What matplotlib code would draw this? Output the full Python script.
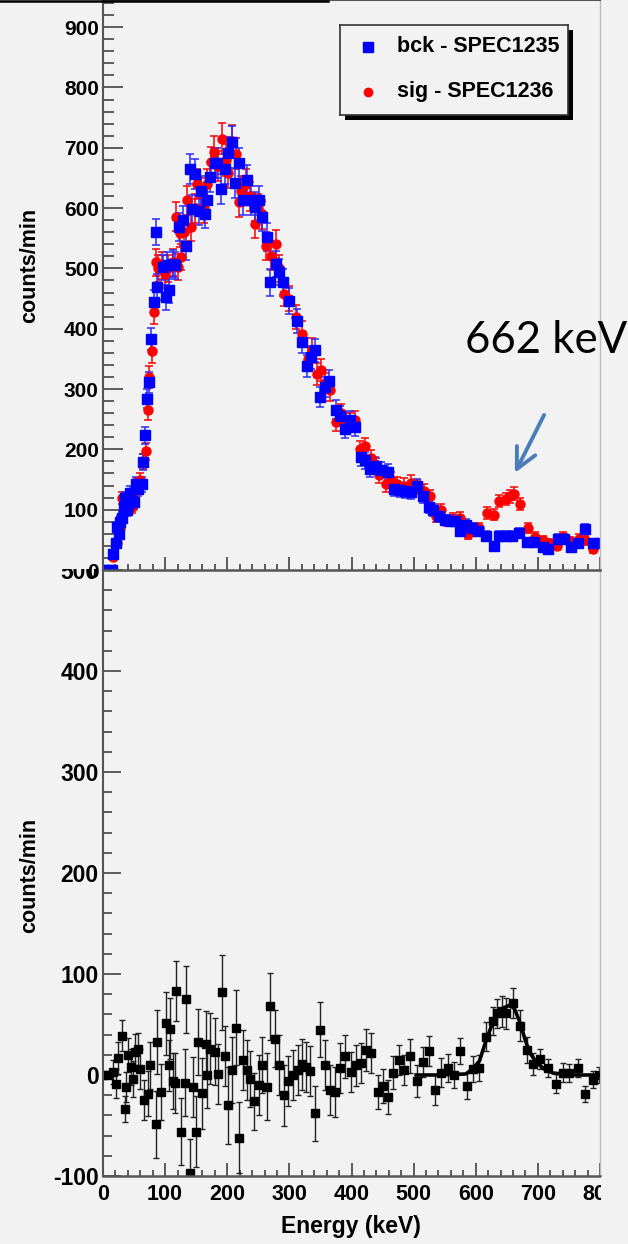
import matplotlib.pyplot as plt
from matplotlib.patches import Rectangle
from matplotlib.lines import Line2D
from matplotlib.ticker import MultipleLocator

plt.rcParams['font.family'] = ['Liberation Sans', 'DejaVu Sans']
plt.rcParams['font.weight'] = 'bold'
plt.rcParams['axes.unicode_minus'] = False

bg = '#f2f2f2'

# background spectrum (bck - SPEC1235)
bck_e = [2, 8, 14, 16, 21, 23, 25, 28, 31, 33,
         36, 38, 41, 44, 47, 50, 53, 57, 62, 64.5,
         67.7, 71.5, 74, 78, 82, 85, 87, 96, 101, 103,
         107, 112, 116, 122, 128, 134, 140, 144, 148, 154,
         158, 164, 167, 173, 180, 184, 190.5, 197, 202, 208,
         213, 218.5, 225, 232, 238, 244, 251, 256, 264, 269,
         278, 284, 290, 300, 312, 320, 328, 335, 342, 350,
         358, 364, 375, 382, 390, 398, 406, 415, 422, 430,
         440, 448, 458, 469, 478, 486, 496, 505, 515, 525,
         531, 541, 550, 559, 566, 575, 584, 594, 603, 616,
         629, 638, 649, 659, 670, 683, 694, 708, 716, 732,
         742, 753, 765, 776, 789, 798]
bck_cnt = [0, 0, 0, 26, 44, 71, 60, 80, 87, 105,
           120, 100, 110, 128, 115, 112, 142, 135, 142, 179,
           223, 284, 311, 383, 445, 560, 469, 502, 452, 505,
           464, 508, 505, 569, 580, 537, 665, 598, 656, 596,
           629, 591, 613, 652, 675, 675, 632, 665, 692, 710,
           642, 674, 613, 646, 613, 602, 613, 586, 552, 477,
           507, 494, 477, 446, 413, 378, 338, 353, 364, 287,
           303, 314, 266, 256, 234, 248, 237, 187, 182, 168,
           173, 166, 162, 135, 133, 131, 130, 139, 122, 104,
           100, 90, 83, 82, 82, 64, 75, 70, 64, 57,
           40, 56, 57, 56, 61, 46, 46, 38, 34, 52,
           52, 38, 45, 68, 44, 44]
bck_err = [0, 0, 0, 6, 7, 8, 8, 9, 9, 10,
           10, 10, 10, 11, 11, 11, 12, 12, 12, 13,
           14, 16, 17, 19, 20, 22, 21, 21, 21, 22,
           21, 22, 22, 23, 23, 23, 25, 24, 25, 24,
           24, 24, 24, 25, 25, 25, 25, 25, 26, 26,
           25, 25, 24, 25, 24, 24, 24, 24, 23, 22,
           22, 22, 22, 21, 20, 19, 18, 19, 19, 17,
           17, 18, 16, 16, 15, 16, 15, 14, 14, 13,
           13, 13, 13, 12, 12, 12, 12, 12, 11, 10,
           10, 10, 9, 9, 9, 8, 9, 8, 8, 8,
           7, 8, 8, 8, 8, 7, 7, 6, 6, 7,
           7, 6, 7, 8, 7, 7]

# source spectrum (sig - SPEC1236)
sig_e = [16, 22, 27, 31, 35, 38, 42, 46, 50, 55,
         59, 64.5, 68.8, 72.5, 74, 78.5, 81.7, 84.9, 89, 95,
         100, 105, 112, 118, 120, 123.5, 126, 131, 136, 142,
         148, 152, 158, 163, 168, 174, 178, 185, 192, 198,
         202, 208, 214, 219, 222, 230, 236, 244, 250, 256,
         262, 270, 278, 284, 291, 300, 310, 320.7, 330, 336,
         344, 351, 358, 364.6, 375, 383, 390, 398, 405, 414,
         422, 431.6, 438, 445, 455.8, 464, 474, 484, 496, 505,
         517, 526.5, 536, 544, 553, 563, 575, 587, 597, 605.8,
         617.6, 628.8, 638, 648.7, 655, 661, 671, 683.5, 695.8, 707.6,
         718, 730, 739.7, 752, 765.5, 776, 788]
sig_cnt = [22, 45, 70, 119, 100, 110, 115, 105, 120, 140,
           149, 180, 197, 265, 320, 363, 428, 510, 500, 505,
           490, 500, 510, 586, 502, 558, 519, 560, 613, 569,
           600, 640, 625, 600, 640, 676, 693, 670, 715, 680,
           658, 712, 690, 610, 628, 640, 620, 573, 600, 590,
           537, 520, 541, 500, 458, 450, 420, 392, 350, 365,
           325, 331, 310, 298, 245, 260, 245, 245, 248, 200,
           205, 185, 175, 157, 142, 150, 142, 140, 145, 138,
           131, 122, 89, 100, 82, 85, 87, 60, 70, 70,
           95, 92, 115, 117, 122, 126.5, 109, 70, 55, 50,
           45, 40, 55, 48, 52, 49, 35]
sig_err = [6, 7, 8, 10, 10, 10, 11, 10, 11, 12,
           12, 13, 14, 16, 18, 19, 20, 22, 22, 22,
           22, 22, 22, 24, 22, 23, 22, 23, 24, 23,
           24, 25, 25, 24, 25, 26, 26, 25, 26, 26,
           25, 26, 26, 24, 25, 25, 24, 23, 24, 24,
           23, 22, 23, 22, 21, 21, 20, 20, 19, 19,
           18, 18, 17, 17, 15, 16, 15, 15, 16, 14,
           14, 14, 13, 13, 12, 12, 12, 12, 12, 12,
           12, 11, 9, 10, 9, 9, 9, 8, 8, 8,
           10, 9, 10, 10, 11, 11, 10, 8, 8, 7,
           7, 7, 8, 7, 7, 7, 6]

# difference sig - bck
diff_e = [0, 8, 16, 20.6, 24, 31, 36, 37, 40, 45.7,
          47.7, 51, 56.4, 59, 66, 72.5, 76.3, 85, 87.6, 93,
          101, 106, 108.5, 112, 116, 118, 125, 131.5, 134, 139.5,
          145, 149, 153, 160, 165, 167, 173, 180, 185, 191.5,
          196, 202, 207.6, 213.5, 218.8, 225, 231, 237, 242.5, 250.5,
          256.4, 264, 269, 277, 284, 290.7, 297.6, 305.6, 313.7, 320.7,
          327, 334, 342, 349.7, 357.7, 364.6, 372.7, 381.8, 389, 399.5,
          406.5, 415.6, 423.6, 431.6, 442.3, 450.3, 458.4, 467.5, 476, 485,
          494.8, 505, 514.6, 525.4, 535, 544, 554.8, 564.5, 574.7, 585.4,
          595, 605.8, 616.5, 627, 635, 643, 648, 659.4, 671.7, 681.8,
          691.5, 704, 715.6, 729, 741, 750.5, 763.8, 776, 789, 798]
diff_cnt = [0, 0, 3, -8.5, 17, 39, -34, -12, 19.5, 8,
            -4, 23, 26, 6, -25, -18.5, 9.6, -49, 32.7, -16.8,
            51, 9.6, 46, -6, -8, 83, -56, -7.5, 75, -96.6,
            -12, -56, 32.7, -18, 31, 0.4, 26, 23, 1, 82,
            19, -30, 5, 47, -62, 15, 5, -4, -26, -10,
            10, -11.5, 68, 36, 10, -20, -6, 0, 5, 10.5,
            8, 4, -38, 45, 10, -15, -17, 7, 18.5, 3,
            9.6, 12, 24.5, 22, -17, -11, -22, 2.4, 15, 5,
            19, -6, 13, 23.5, -14.5, 2.4, 7, 0, 23.8, -11,
            6, 7, 38, 53.5, 61, 63, 61, 71, 49, 25,
            10.6, 16, 7, -8.5, 2.4, 2, 7, -19, -4.5, 0]
diff_err = [0, 0, 12, 14, 16, 15, 13, 15, 17, 18,
            18, 18, 16, 20, 20, 22, 23, 33, 32, 28,
            31, 25, 30, 28, 30, 30, 33, 33, 33, 33,
            30, 35, 33, 35, 32, 33, 35, 33, 30, 37,
            30, 38, 33, 37, 35, 30, 30, 28, 28, 30,
            28, 33, 33, 28, 30, 30, 25, 25, 25, 25,
            25, 25, 27, 27, 25, 25, 25, 25, 21, 20,
            20, 20, 21, 20, 17, 17, 17, 16, 15, 15,
            17, 16, 15, 15, 15, 14, 14, 13, 13, 13,
            13, 13, 14, 14, 14, 15, 15, 15, 15, 13,
            11, 10, 9, 9, 9, 9, 9, 8, 8, 8]

# fitted peak curve
fit_e = [504, 540, 584, 595, 606, 616, 625, 633, 643, 654,
         662, 670, 678, 686, 697, 710, 724, 755, 800]
fit_cnt = [0, 0, 1, 6, 14, 33, 48, 59, 66, 69,
           66, 54, 38, 23, 13, 6, 2, 0, 0]

W, H = 628, 1244
fig = plt.figure(figsize=(W / 100, H / 100), dpi=100, facecolor=bg)


def fx(x):
    return x / W


def fy(y):
    return 1 - y / H


ax_top = fig.add_axes([fx(103), fy(570), (600 - 103) / W, 570 / H], zorder=2)
ax_bot = fig.add_axes([fx(103), fy(1176), (600 - 103) / W, (1176 - 570) / H], zorder=0)

for ax in (ax_top, ax_bot):
    ax.set_facecolor(bg)
    ax.set_xlim(0, 800)
    ax.xaxis.set_major_locator(MultipleLocator(100))
    ax.xaxis.set_minor_locator(MultipleLocator(20))
    ax.yaxis.set_major_locator(MultipleLocator(100))
    ax.yaxis.set_minor_locator(MultipleLocator(20))
    ax.tick_params(which='both', direction='in', color='#333333', width=1.1)
    ax.spines['left'].set_color('#555555')
    ax.spines['left'].set_linewidth(1.5)
    ax.spines['bottom'].set_color('#555555')
    ax.spines['bottom'].set_linewidth(1.8)
    ax.spines['right'].set_color('#bbbbbb')
    ax.spines['right'].set_linewidth(1.0)
    ax.spines['top'].set_color('#555555')
    ax.spines['top'].set_linewidth(1.5)

# upper pad: the two spectra
ax_top.set_ylim(0, 945)
ax_top.tick_params(axis='x', which='major', length=9.5, labelbottom=False)
ax_top.tick_params(axis='x', which='minor', length=4.5)
ax_top.tick_params(axis='y', which='major', length=14.5, labelsize=15, pad=3)
ax_top.tick_params(axis='y', which='minor', length=8)

ax_top.errorbar(sig_e, sig_cnt, yerr=sig_err, fmt='o', color='red', ms=6.5,
                ecolor='red', elinewidth=1.1, capsize=2.8, capthick=1.1)
ax_top.errorbar(bck_e, bck_cnt, yerr=bck_err, fmt='s', color='blue', ms=6.8,
                ecolor='#2a2aff', elinewidth=1.1, capsize=2.8, capthick=1.1)

ax_top.text(583, 360, '662 keV', fontsize=31.5, family=['Lato', 'DejaVu Sans'],
            weight='normal', ha='left', va='baseline', clip_on=False)
ax_top.annotate('', xy=(663, 161), xytext=(710, 257),
                arrowprops=dict(arrowstyle='->', color='#4a7ebb', lw=2.8,
                                mutation_scale=37, shrinkA=0, shrinkB=0))

# lower pad: difference with peak fit
ax_bot.set_ylim(-100, 500)
ax_bot.tick_params(axis='x', which='major', length=9.5, labelsize=15.5, pad=6)
ax_bot.tick_params(axis='x', which='minor', length=4.5)
ax_bot.tick_params(axis='y', which='major', length=13, labelsize=16.5, pad=3)
ax_bot.tick_params(axis='y', which='minor', length=6.5)

ax_bot.errorbar(diff_e, diff_cnt, yerr=diff_err, fmt='s', color='black', ms=6,
                ecolor='#222222', elinewidth=1.0, capsize=2.2, capthick=1.0)
ax_bot.plot(fit_e, fit_cnt, color='black', lw=2.6, zorder=3)

# upper pad sits over the top of the lower one
fig.add_artist(Rectangle((0, fy(569)), 1, 569 / H, transform=fig.transFigure,
                         facecolor=bg, edgecolor='none', zorder=1))
fig.add_artist(Rectangle((fx(601), 0), 1 - fx(601), fy(1177), transform=fig.transFigure,
                         facecolor=bg, edgecolor='none', zorder=1))
fig.add_artist(Line2D([0, fx(328)], [fy(1), fy(1)], transform=fig.transFigure,
                      color='black', lw=1.8, zorder=4))

fig.text(fx(30), fy(265), 'counts/min', rotation=90, ha='center', va='center',
         fontsize=15.5, weight='bold')
fig.text(fx(30), fy(875), 'counts/min', rotation=90, ha='center', va='center',
         fontsize=15.5, weight='bold')
fig.text(fx(351), fy(1226), 'Energy (keV)', ha='center', va='center',
         fontsize=16.5, weight='bold')

# legend box with drop shadow
fig.add_artist(Rectangle((fx(345), fy(120)), 228 / W, 90 / H, transform=fig.transFigure,
                         facecolor='black', edgecolor='none', zorder=4))
leg = fig.add_axes([fx(340), fy(115), 228 / W, 90 / H], zorder=5)
leg.set_facecolor(bg)
leg.set_xlim(0, 1)
leg.set_ylim(0, 1)
leg.set_xticks([])
leg.set_yticks([])
for s in leg.spines.values():
    s.set_color('#333333')
    s.set_linewidth(1.2)
leg.plot([0.123], [0.756], 's', color='blue', ms=6.5)
leg.plot([0.123], [0.256], 'o', color='red', ms=6)
leg.text(0.25, 0.756, 'bck - SPEC1235', fontsize=15.5, weight='bold', va='center')
leg.text(0.25, 0.256, 'sig - SPEC1236', fontsize=15.5, weight='bold', va='center')

fig.savefig('out.png', dpi=100, facecolor=bg)
